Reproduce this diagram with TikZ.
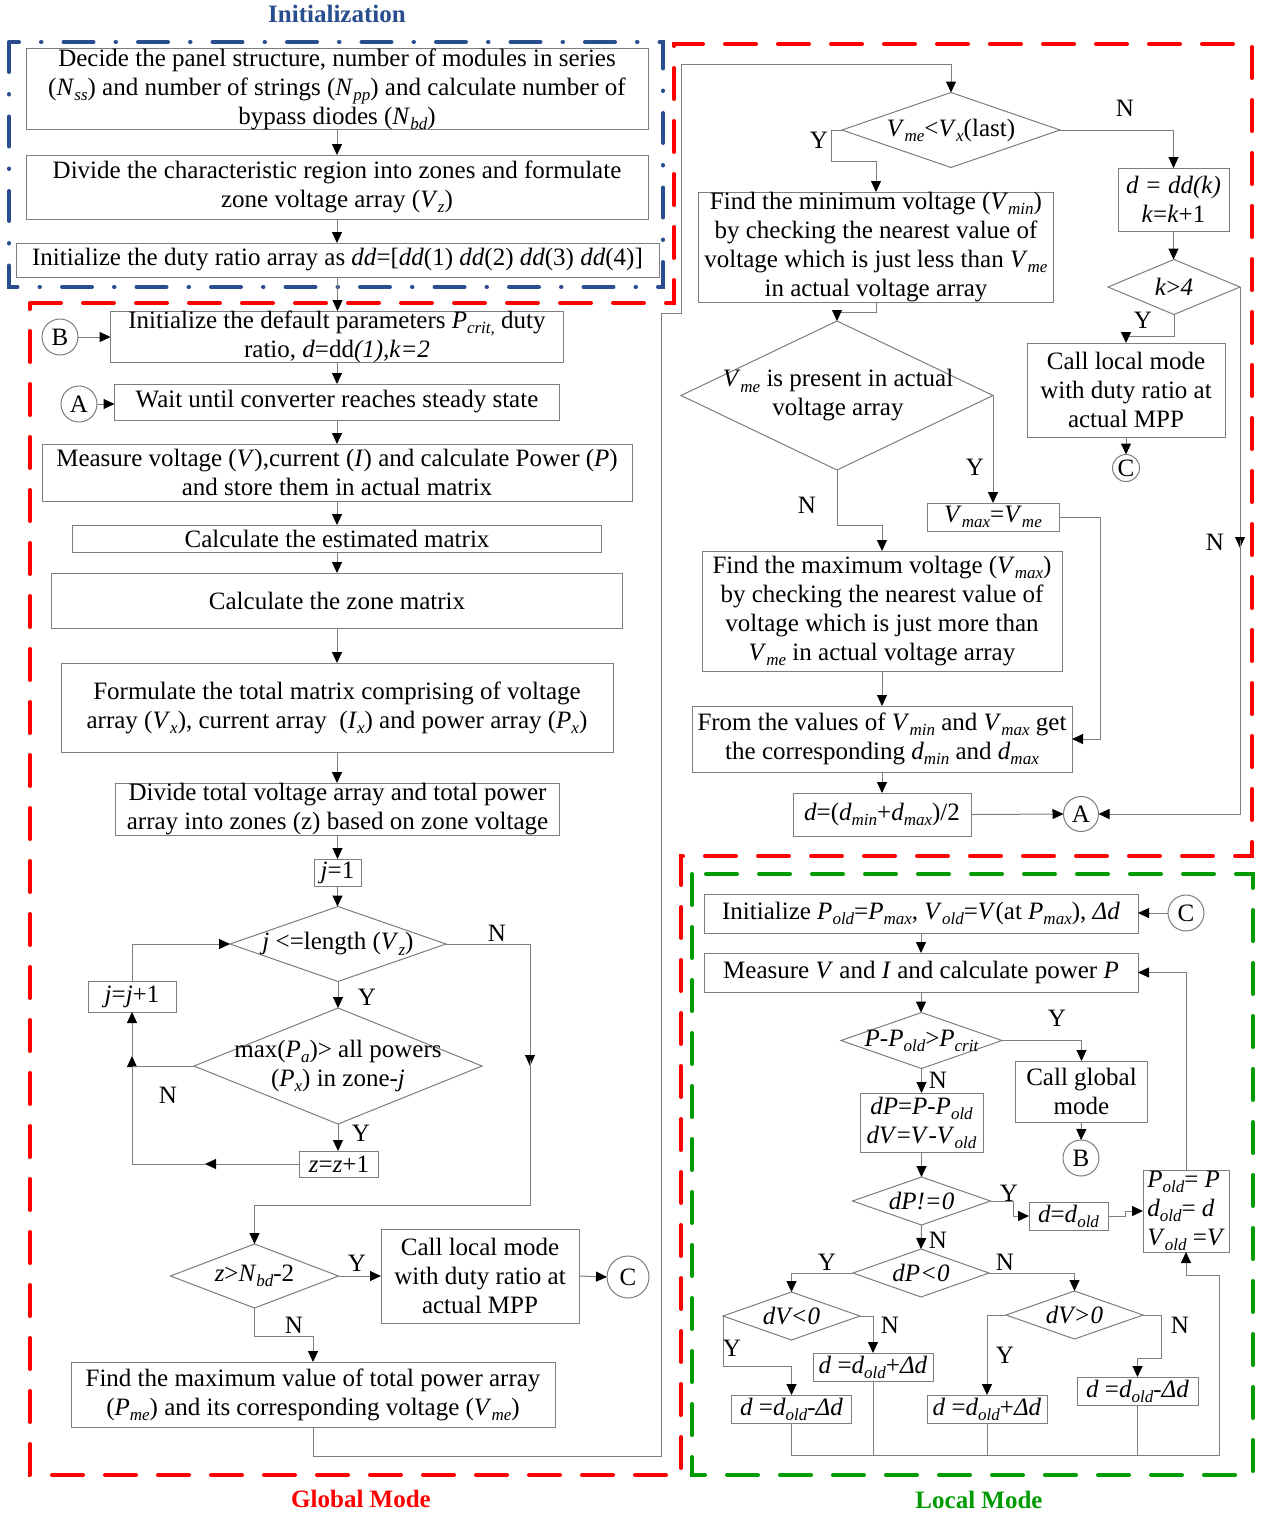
\documentclass[tikz,border=0pt]{standalone}
\usepackage{fontspec}
\setmainfont{Liberation Serif}
\usetikzlibrary{arrows.meta,shapes.geometric,calc}
\definecolor{lg}{RGB}{125,125,125}
\definecolor{ired}{RGB}{255,0,0}
\definecolor{igreen}{RGB}{0,155,0}
\definecolor{iblue}{RGB}{41,78,143}
\newcommand\sbs[1]{\raisebox{-0.45ex}{\fontsize{17}{17}\selectfont\itshape #1}}
\begin{document}
\begin{tikzpicture}[x=1pt,y=-1pt,
 every node/.style={font=\fontsize{25}{29}\selectfont, inner sep=0pt, outer sep=0pt},
 box/.style={draw=lg, line width=1pt, align=center, fill=white},
 dia/.style={diamond, draw=lg, line width=1pt},
 dtxt/.style={align=center},
 circ/.style={circle, draw=lg, line width=1pt, fill=white},
 lbl/.style={font=\fontsize{25}{29}\selectfont},
 ln/.style={draw=lg, line width=1pt},
 arr/.style={ln, -{Triangle[length=11pt,width=10pt,color=black]}},
 ttl/.style={font=\fontsize{25}{29}\selectfont\bfseries},
 fr/.style={line width=4pt, line cap=round}
]
\fill[white] (0,0) rectangle (1269,1513);
\useasboundingbox (0,0) rectangle (1269,1513);

% frames
\draw[fr, iblue, dash pattern=on 30pt off 22pt on 0.5pt off 22pt] (9,42) rectangle (663,287);
\draw[fr, ired, dash pattern=on 31pt off 22pt] (30,303) -- (674,303) -- (674,44) -- (1252,44) -- (1252,856) -- (681,856) -- (681,1475) -- (30,1475) -- cycle;
\draw[fr, igreen, dash pattern=on 31pt off 22pt] (692,874) rectangle (1253,1475);

% titles
\node[ttl, text=iblue] (tinit) at (337,14) {Initialization};
\node[ttl, text=ired] (tglob) at (361,1499) {Global Mode};
\node[ttl, text=igreen] (tloc) at (979,1500) {Local Mode};

% initialization
\node[box, minimum width=622, minimum height=80] (b1) at (337,89) {Decide the panel structure, number of modules in series\\(\textit{N}\sbs{ss}) and number of strings (\textit{N}\sbs{pp}) and calculate number of\\bypass diodes (\textit{N}\sbs{bd})};
\node[box, minimum width=622, minimum height=64] (b2) at (337,187) {Divide the characteristic region into zones and formulate\\zone voltage array (\textit{V}\sbs{z})};
\node[box, minimum width=643, minimum height=34] (b3) at (337.5,260) {Initialize the duty ratio array as \textit{dd}=[\textit{dd}(1) \textit{dd}(2) \textit{dd}(3) \textit{dd}(4)]};

% global mode, left column
\node[box, minimum width=453, minimum height=50] (g1) at (337,337) {Initialize the default parameters \textit{P}\sbs{crit,} duty\\ratio, \textit{d}=dd\textit{(1),k=2}};
\node[box, minimum width=445, minimum height=36] (g2) at (337,402) {Wait until converter reaches steady state};
\node[box, minimum width=590, minimum height=57] (g3) at (337,472.5) {Measure voltage (\textit{V}),current (\textit{I}) and calculate Power (\textit{P})\\and store them in actual matrix};
\node[box, minimum width=529, minimum height=27] (g4) at (337,538.5) {Calculate the estimated matrix};
\node[box, minimum width=571, minimum height=55] (g5) at (337,600.5) {Calculate the zone matrix};
\node[box, minimum width=552, minimum height=89] (g6) at (337,707.5) {Formulate the total matrix comprising of voltage\\array (\textit{V}\sbs{x}), current array~~(\textit{I}\sbs{x}) and power array (\textit{P}\sbs{x})};
\node[box, minimum width=444, minimum height=52] (g7) at (337.5,809) {Divide total voltage array and total power\\array into zones (z) based on zone voltage};
\node[box, minimum width=47, minimum height=27] (g8) at (337.5,872.5) {\textit{j}=1};
\node[circ, minimum size=36] (cB1) at (60,337) {B};
\node[circ, minimum size=36] (cA1) at (79,404) {A};

\node[dia, minimum width=216, minimum height=75] (dj) at (338,944) {};
\node[dtxt] (djt) at (338,944) {\textit{j} <=length (\textit{V}\sbs{z})};
\node[box, minimum width=88, minimum height=31] (jj) at (132,996.5) {\textit{j}=\textit{j}+1};
\node[dia, minimum width=288, minimum height=116] (dm) at (338,1066) {};
\node[dtxt] (dmt) at (338,1066) {max(\textit{P}\sbs{a})> all powers\\(\textit{P}\sbs{x}) in zone-\textit{j}};
\node[box, minimum width=79, minimum height=26] (zz) at (339,1164) {\textit{z}=\textit{z}+1};
\node[dia, minimum width=168, minimum height=64] (dz) at (254.5,1276) {};
\node[dtxt] (dzt) at (254.5,1276) {\textit{z}>\textit{N}\sbs{bd}-2};
\node[box, minimum width=198, minimum height=94] (cl1) at (480,1276) {Call local mode\\with duty ratio at\\actual MPP};
\node[circ, minimum size=42] (cC1) at (628,1277) {C};
\node[box, minimum width=484, minimum height=65] (fm) at (313,1394.5) {Find the maximum value of total power array\\(\textit{P}\sbs{me}) and its corresponding voltage (\textit{V}\sbs{me})};

% global mode, right column
\node[dia, minimum width=218, minimum height=75] (dl) at (951,130) {};
\node[dtxt] (dlt) at (951,130) {\textit{V}\sbs{me}<\textit{V}\sbs{x}(last)};
\node[box, minimum width=355, minimum height=110] (fmin) at (876,247) {Find the minimum voltage (\textit{V}\sbs{min})\\by checking the nearest value of\\voltage which is just less than \textit{V}\sbs{me}\\in actual voltage array};
\node[box, minimum width=111, minimum height=63] (ddk) at (1173.5,199.5) {\textit{d = dd(k)}\\\textit{k}=\textit{k}+1};
\node[dia, minimum width=132, minimum height=55] (dk) at (1174,287) {};
\node[dtxt] (dkt) at (1174,287) {\textit{k}>\textit{4}};
\node[box, minimum width=198, minimum height=94] (cl2) at (1126,390) {Call local mode\\with duty ratio at\\actual MPP};
\node[circ, minimum size=27] (cC2) at (1126,468) {C};
\node[dia, minimum width=312, minimum height=149] (dp) at (837,395.5) {};
\node[dtxt] (dpt) at (838,395.5) {\textit{V}\sbs{me} is present in actual\\voltage array};
\node[box, minimum width=132, minimum height=28] (vm) at (993,517) {\textit{V}\sbs{max}=\textit{V}\sbs{me}};
\node[box, minimum width=360, minimum height=120] (fmx) at (882,611) {Find the maximum voltage (\textit{V}\sbs{max})\\by checking the nearest value of\\voltage which is just more than\\\textit{V}\sbs{me} in actual voltage array};
\node[box, minimum width=380, minimum height=66] (fv) at (882,739) {From the values of \textit{V}\sbs{min} and \textit{V}\sbs{max} get\\the corresponding \textit{d}\sbs{min} and \textit{d}\sbs{max}};
\node[box, minimum width=178, minimum height=43] (da) at (882,814.5) {\textit{d}=(\textit{d}\sbs{min}+\textit{d}\sbs{max})/2};
\node[circ, minimum size=35] (cA2) at (1081,814) {A};

% local mode
\node[box, minimum width=434, minimum height=39] (L1) at (921,913.5) {Initialize \textit{P}\sbs{old}=\textit{P}\sbs{max}, \textit{V}\sbs{old}=\textit{V}(at \textit{P}\sbs{max}), \textit{Δd}};
\node[circ, minimum size=36] (cC3) at (1186,913) {C};
\node[box, minimum width=434, minimum height=39] (L2) at (921,972.5) {Measure \textit{V} and \textit{I} and calculate power \textit{P}};
\node[dia, minimum width=161, minimum height=56] (dpc) at (921.5,1040.5) {};
\node[dtxt] (dpct) at (921.5,1040.5) {\textit{P}-\textit{P}\sbs{old}>\textit{P}\sbs{crit}};
\node[box, minimum width=132, minimum height=61] (cg) at (1081.5,1091.5) {Call global\\mode};
\node[circ, minimum size=36] (cB2) at (1081,1158) {B};
\node[box, minimum width=123, minimum height=59] (dpv) at (921.5,1122.5) {\textit{dP}=\textit{P}-\textit{P}\sbs{old}\\\textit{dV}=\textit{V}-\textit{V}\sbs{old}};
\node[dia, minimum width=138, minimum height=48] (d0) at (921.5,1201) {};
\node[dtxt] (d0t) at (921.5,1201) {\textit{dP!=0}};
\node[box, minimum width=79, minimum height=28] (dold) at (1068.5,1216) {\textit{d}=\textit{d}\sbs{old}};
\node[box, minimum width=86, minimum height=82, align=left] (upd) at (1186,1211) {\textit{P}\sbs{old}= \textit{P}\\\textit{d}\sbs{old}= \textit{d}\\\textit{V}\sbs{old} =\textit{V}};
\node[dia, minimum width=136, minimum height=48] (dpl) at (921,1273) {};
\node[dtxt] (dplt) at (921,1273) {\textit{dP<0}};
\node[dia, minimum width=137, minimum height=48] (dvl) at (791.5,1316) {};
\node[dtxt] (dvlt) at (791.5,1316) {\textit{dV<0}};
\node[dia, minimum width=137, minimum height=48] (dvg) at (1074.5,1315) {};
\node[dtxt] (dvgt) at (1074.5,1315) {\textit{dV>0}};
\node[box, minimum width=120, minimum height=28] (x1) at (791.5,1409) {\textit{d} =\textit{d}\sbs{old}-\textit{Δd}};
\node[box, minimum width=120, minimum height=28] (x2) at (873,1367) {\textit{d} =\textit{d}\sbs{old}+\textit{Δd}};
\node[box, minimum width=120, minimum height=28] (x3) at (987,1409) {\textit{d} =\textit{d}\sbs{old}+\textit{Δd}};
\node[box, minimum width=121, minimum height=28] (x4) at (1137.5,1391) {\textit{d} =\textit{d}\sbs{old}-\textit{Δd}};

% connectors: initialization & global left
\draw[arr] (b1.south) -- (b1.south |- b2.north);
\draw[arr] (b2.south) -- (b2.south |- b3.north);
\draw[arr] (b3.south) -- (b3.south |- g1.north);
\draw[arr] (g1.south) -- (g1.south |- g2.north);
\draw[arr] (g2.south) -- (g2.south |- g3.north);
\draw[arr] (g3.south) -- (g3.south |- g4.north);
\draw[arr] (g4.south) -- (g4.south |- g5.north);
\draw[arr] (g5.south) -- (g5.south |- g6.north);
\draw[arr] (g6.south) -- (g6.south |- g7.north);
\draw[arr] (g7.south) -- (g7.south |- g8.north);
\draw[arr] (g8.south) -- (g8.south |- dj.north);
\draw[arr] (cB1.east) -- (g1.west |- cB1.east);
\draw[arr] (cA1.east) -- (g2.west |- cA1.east);
\draw[arr] (dj.south) -- (dm.north);
\draw[arr] (dm.south) -- (dm.south |- zz.north);
\draw[arr] (zz.west) -- (205,1164);
\draw[arr] (206,1164) -- (132,1164) -- (132,1056);
\draw[ln] (dm.west) -- (132,1066);
\draw[arr] (132,1057) -- (jj.south);
\draw[arr] (jj.north) |- (dj.west);
\draw[arr] (dj.east) -- (530,944) -- (530,1066);
\draw[arr] (530,1060) -- (530,1205) -| (dz.north);
\draw[arr] (dz.east) -- (cl1.west);
\draw[arr] (cl1.east) -- (cC1.west);
\draw[arr] (dz.south) -- (254.5,1336) -| (fm.north);
\draw[arr] (fm.south) -- (313,1456) -- (661,1456) -- (661,313) -- (681,313) -- (681,64) -| (dl.north);

% global right
\draw[arr] (dl.west) -- (831,130) -- (831,161) -| (fmin.north);
\draw[arr] (dl.east) -| (ddk.north);
\draw[arr] (ddk.south) -- (ddk.south |- dk.north);
\draw[arr] (dk.south) -- (1174,336) -| (cl2.north);
\draw[arr] (cl2.south) -- (cC2.north);
\draw[arr] (dk.east) -- (1240,287) -- (1240,548);
\draw[arr] (1240,540) |- (cA2.east);
\draw[arr] (fmin.south) -- (876,312) -| (dp.north);
\draw[arr] (dp.east) -| (vm.north);
\draw[arr] (dp.south) -- (837,525) -| (fmx.north);
\draw[arr] (vm.east) -- (1100,517) |- (fv.east);
\draw[arr] (fmx.south) -- (fmx.south |- fv.north);
\draw[arr] (fv.south) -- (fv.south |- da.north);
\draw[arr] (da.east) -- (cA2.west);

% local
\draw[arr] (cC3.west) -- (L1.east |- cC3.west);
\draw[arr] (L1.south) -- (L1.south |- L2.north);
\draw[arr] (L2.south) -- (L2.south |- dpc.north);
\draw[arr] (dpc.east) -| (cg.north);
\draw[arr] (cg.south) -- (cB2.north);
\draw[arr] (dpc.south) -- (dpc.south |- dpv.north);
\draw[arr] (dpv.south) -- (dpv.south |- d0.north);
\draw[arr] (d0.east) -- (1013,1201) |- (dold.west);
\draw[arr] (dold.east) -- (1125,1216) -- (1125,1211) -- (upd.west);
\draw[arr] (upd.north) |- (L2.east);
\draw[arr] (d0.south) -- (dpl.north);
\draw[arr] (dpl.west) -| (dvl.north);
\draw[arr] (dpl.east) -| (dvg.north);
\draw[arr] (dvl.west) -- (723,1366) -| (x1.north);
\draw[arr] (dvl.east) -| (x2.north);
\draw[arr] (dvg.west) -| (x3.north);
\draw[arr] (dvg.east) -- (1161,1315) -- (1161,1358) -| (x4.north);
\draw[arr] (x1.south) -- (791.5,1455) -- (1219.5,1455) -- (1219.5,1275) -| (upd.south);
\draw[ln] (x2.south) -- (873,1455);
\draw[ln] (x3.south) -- (987,1455);
\draw[ln] (x4.south) -- (1137.5,1455);

% labels
\node[lbl] (yj) at (367,997) {Y};
\node[lbl] (ym) at (361,1133) {Y};
\node[lbl] (nm) at (168,1095) {N};
\node[lbl] (nj) at (497,933) {N};
\node[lbl] (yz) at (357,1263) {Y};
\node[lbl] (nz) at (294,1325) {N};
\node[lbl] (yl) at (819,140) {Y};
\node[lbl] (nl) at (1125,108) {N};
\node[lbl] (yk) at (1143,320) {Y};
\node[lbl] (nk) at (1215,542) {N};
\node[lbl] (yp) at (975,467) {Y};
\node[lbl] (np) at (807,505) {N};
\node[lbl] (ypc) at (1057,1018) {Y};
\node[lbl] (npc) at (938,1080) {N};
\node[lbl] (y0) at (1009,1193) {Y};
\node[lbl] (n0) at (938,1240) {N};
\node[lbl] (ypl) at (827,1262) {Y};
\node[lbl] (npl) at (1005,1262) {N};
\node[lbl] (yvl) at (732,1348) {Y};
\node[lbl] (nvl) at (890,1325) {N};
\node[lbl] (yvg) at (1005,1355) {Y};
\node[lbl] (nvg) at (1180,1325) {N};
\end{tikzpicture}
\end{document}
